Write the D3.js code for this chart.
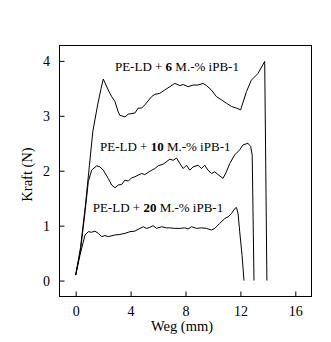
<!DOCTYPE html>
<html><head><meta charset="utf-8">
<script src="https://cdn.jsdelivr.net/npm/d3@7"></script>
<style>
html,body{margin:0;padding:0;background:#fff;}
svg, svg text{font-family:"Liberation Serif","Times New Roman",Times,"DejaVu Serif",serif;fill:#000;}
</style></head>
<body>
<svg id="c" width="331" height="342"></svg>
<script>
// Weg (mm), Kraft (N) for each blend
const pe6 = [[0,0.1],[0.35,0.6],[0.7,1.35],[1.0,2.1],[1.25,2.72],[1.6,3.2],[1.85,3.5],[2.01,3.67],[2.37,3.47],[2.62,3.35],[2.86,3.26],[3.1,3.07],[3.22,3.01],[3.59,2.98],[3.83,3.03],[4.31,3.05],[4.55,3.14],[4.8,3.14],[5.04,3.2],[5.53,3.35],[5.77,3.39],[6.13,3.41],[6.49,3.47],[6.86,3.53],[7.22,3.59],[7.59,3.55],[7.83,3.57],[8.19,3.53],[8.55,3.56],[8.92,3.56],[9.28,3.59],[9.53,3.55],[9.89,3.47],[10.25,3.35],[10.62,3.29],[10.98,3.23],[11.35,3.17],[11.71,3.14],[12.02,3.11],[12.44,3.44],[12.8,3.65],[13.28,3.77],[13.77,3.99],[13.93,0.0]];
const pe10 = [[0,0.1],[0.35,0.55],[0.68,1.25],[0.92,1.8],[1.16,2.01],[1.53,2.09],[1.77,2.07],[2.01,2.01],[2.37,1.86],[2.62,1.74],[2.86,1.69],[3.1,1.74],[3.35,1.75],[3.59,1.83],[3.83,1.81],[4.07,1.87],[4.31,1.89],[4.55,1.92],[4.8,1.95],[5.04,1.93],[5.4,1.99],[5.77,2.04],[6.01,2.09],[6.37,2.12],[6.86,2.21],[7.1,2.19],[7.35,2.23],[7.59,2.13],[7.83,2.04],[8.07,2.1],[8.31,2.01],[8.55,2.07],[8.92,2.1],[9.16,2.04],[9.4,2.1],[9.64,2.01],[9.89,1.95],[10.13,1.98],[10.37,1.93],[10.73,1.86],[10.98,1.98],[11.22,2.13],[11.59,2.29],[11.95,2.38],[12.19,2.47],[12.55,2.5],[12.75,2.44],[12.86,2.28],[12.99,0.0]];
const pe20 = [[0,0.1],[0.31,0.46],[0.68,0.83],[0.92,0.89],[1.16,0.88],[1.4,0.9],[1.65,0.86],[1.89,0.8],[2.13,0.82],[2.37,0.8],[2.86,0.83],[3.22,0.84],[3.59,0.86],[3.95,0.89],[4.31,0.9],[4.68,0.95],[4.92,0.98],[5.16,0.95],[5.4,0.97],[5.64,1.0],[5.89,0.95],[6.25,0.98],[6.62,0.96],[6.86,0.96],[7.22,0.95],[7.59,0.95],[7.95,0.96],[8.19,0.94],[8.44,0.98],[8.8,0.95],[9.16,0.96],[9.53,0.95],[9.89,0.92],[10.13,0.95],[10.49,1.04],[10.86,1.13],[11.1,1.16],[11.35,1.22],[11.59,1.31],[11.71,1.33],[11.83,1.22],[11.95,0.89],[12.12,0.46],[12.26,0.0]];
const xTicks = [0,4,8,12,16];
const yTicks = [0,1,2,3,4];
const labelPre = ["PE-LD + ","PE-LD + ","PE-LD + "];
const labelBold = ["6","10","20"];
const labelPost = [" M.-% iPB-1"," M.-% iPB-1"," M.-% iPB-1"];
const labelAt = [[2.86,3.82],[1.77,2.36],[1.24,1.25]];
const xTitle = "Weg (mm)";
const yTitle = "Kraft (N)";

const FONT = '"Liberation Serif","Times New Roman",Times,"DejaVu Serif",serif';
const svg = d3.select("#c");
const L=59.5, R=311.5, T=45.5, B=296.5;
const x = d3.scaleLinear().domain([-1.18,17.18]).range([L,R]);
const y = d3.scaleLinear().domain([-0.29,4.28]).range([B,T]);

svg.append("rect").attr("x",L).attr("y",T).attr("width",R-L).attr("height",B-T)
  .attr("fill","none").attr("stroke","#000").attr("stroke-width",1);

const xa = svg.append("g").attr("transform",`translate(0,${B})`)
  .call(d3.axisBottom(x).tickValues(xTicks).tickFormat(d3.format("d")).tickSizeInner(-5).tickSizeOuter(0).tickPadding(10));
const ya = svg.append("g").attr("transform",`translate(${L},0)`)
  .call(d3.axisLeft(y).tickValues(yTicks).tickFormat(d3.format("d")).tickSizeInner(-5).tickSizeOuter(0).tickPadding(9.5));
[xa,ya].forEach(g=>{
  g.attr("font-family",null).attr("font-size",null);
  g.select(".domain").remove();
  g.selectAll("line").attr("stroke","#000");
  g.selectAll("text").style("font-family",FONT).style("font-size","14px").attr("fill","#000");
});

const line = d3.line().x(d=>x(d[0])).y(d=>y(d[1]));
[pe6,pe10,pe20].forEach(s=>{
  svg.append("path").datum(s).attr("d",line).attr("fill","none").attr("stroke","#000").attr("stroke-width",1);
});

labelAt.forEach((p,i)=>{
  const t = svg.append("text").attr("x",x(p[0])).attr("y",y(p[1])).style("font-family",FONT).style("font-size","13px");
  t.append("tspan").text(labelPre[i]);
  t.append("tspan").attr("font-weight","bold").text(labelBold[i]);
  t.append("tspan").text(labelPost[i]);
});

svg.append("text").attr("x",182).attr("y",331).attr("text-anchor","middle").style("font-family",FONT).style("font-size","14.5px").text(xTitle);
svg.append("text").attr("transform","translate(32,174.5) rotate(-90)").attr("text-anchor","middle").style("font-family",FONT).style("font-size","14.5px").text(yTitle);
</script>
</body></html>
